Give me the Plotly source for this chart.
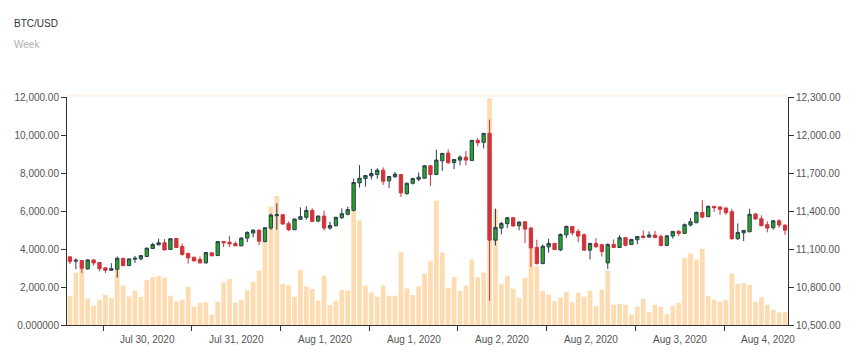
import plotly.graph_objects as go

title_text = "BTC/USD"
subtitle_text = "Week"

opens = [11038, 11004, 11009, 10943, 11014, 10993, 10951, 10932, 10940, 11027,
         10969, 11019, 11022, 11041, 11104, 11133, 11149, 11096, 11183, 11120,
         11064, 11035, 11017, 10990, 11070, 11048, 11159, 11154, 11144, 11125,
         11186, 11226, 11249, 11159, 11265, 11363, 11371, 11300, 11252, 11334,
         11350, 11405, 11321, 11360, 11265, 11284, 11347, 11374, 11405, 11622,
         11656, 11677, 11688, 11722, 11638, 11670, 11688, 11537, 11619, 11651,
         11659, 11757, 11688, 11796, 11857, 11783, 11802, 11825, 11799, 11958,
         11942, 12013, 11170, 11265, 11300, 11347, 11284, 11315, 11265, 11112,
         10985, 11117, 11144, 11093, 11212, 11278, 11239, 11212, 11091, 11144,
         11134, 10990, 11136, 11112, 11189, 11136, 11173, 11202, 11194, 11210,
         11199, 11128, 11202, 11239, 11223, 11289, 11307, 11389, 11355, 11437,
         11432, 11424, 11395, 11181, 11228, 11236, 11376, 11339, 11292, 11268,
         11323, 11289]

highs = [11040, 11027, 11014, 11019, 11016, 10995, 10952, 10988, 11041, 11029,
         11024, 11046, 11054, 11109, 11149, 11181, 11178, 11183, 11186, 11144,
         11072, 11038, 11041, 11074, 11071, 11162, 11161, 11204, 11159, 11194,
         11239, 11255, 11255, 11273, 11381, 11461, 11373, 11318, 11339, 11429,
         11437, 11421, 11366, 11403, 11315, 11355, 11421, 11434, 11656, 11762,
         11683, 11733, 11738, 11744, 11674, 11707, 11690, 11625, 11662, 11704,
         11762, 11759, 11884, 11857, 11886, 11809, 11839, 11873, 11960, 11976,
         12015, 12121, 11418, 11315, 11352, 11350, 11318, 11318, 11276, 11173,
         11136, 11181, 11149, 11223, 11286, 11281, 11257, 11223, 11149, 11186,
         11141, 11144, 11175, 11210, 11196, 11181, 11202, 11247, 11239, 11244,
         11215, 11210, 11241, 11249, 11302, 11344, 11395, 11485, 11442, 11440,
         11433, 11425, 11418, 11302, 11249, 11418, 11384, 11366, 11318, 11326,
         11334, 11292]

lows = [10980, 10940, 10911, 10937, 10969, 10924, 10911, 10930, 10874, 10964,
        10967, 10990, 11011, 11038, 11099, 11130, 11088, 11094, 11109, 11048,
        10985, 11003, 10988, 10988, 11044, 11046, 11115, 11115, 11122, 11122,
        11154, 11191, 11130, 11154, 11252, 11252, 11292, 11241, 11250, 11331,
        11331, 11313, 11310, 11247, 11252, 11278, 11337, 11366, 11397, 11585,
        11593, 11648, 11654, 11606, 11582, 11662, 11511, 11529, 11609, 11635,
        11656, 11598, 11683, 11717, 11773, 11730, 11762, 11762, 11796, 11910,
        11894, 10692, 11128, 11215, 11265, 11278, 11247, 11146, 10959, 10977,
        10980, 11070, 11091, 11083, 11186, 11207, 11154, 11085, 11017, 11112,
        11040, 10943, 11109, 11107, 11120, 11130, 11138, 11183, 11191, 11186,
        11122, 11122, 11183, 11202, 11220, 11278, 11305, 11342, 11352, 11392,
        11368, 11371, 11175, 11173, 11162, 11233, 11331, 11278, 11231, 11252,
        11268, 11212]

closes = [11001, 11011, 10948, 11014, 10990, 10945, 10932, 10945, 11027, 10969,
          11022, 11027, 11048, 11107, 11136, 11149, 11093, 11181, 11112, 11056,
          11030, 11006, 10990, 11072, 11046, 11159, 11149, 11141, 11125, 11186,
          11231, 11249, 11162, 11268, 11368, 11371, 11297, 11252, 11337, 11355,
          11405, 11318, 11360, 11265, 11286, 11350, 11379, 11411, 11625, 11659,
          11680, 11696, 11722, 11635, 11672, 11691, 11543, 11619, 11656, 11667,
          11757, 11688, 11802, 11855, 11781, 11807, 11825, 11802, 11958, 11939,
          12013, 11170, 11270, 11302, 11347, 11281, 11313, 11257, 11109, 10985,
          11122, 11144, 11096, 11215, 11278, 11228, 11202, 11091, 11144, 11117,
          11080, 11136, 11112, 11189, 11130, 11175, 11199, 11191, 11210, 11191,
          11128, 11204, 11239, 11223, 11292, 11315, 11389, 11352, 11437, 11426,
          11413, 11387, 11181, 11231, 11247, 11374, 11337, 11284, 11265, 11323,
          11289, 11249]

volumes = [1524, 2758, 2951, 1383, 1013, 1330, 1595, 1418, 3498, 2070,
           1507, 1806, 1471, 2370, 2528, 2581, 2493, 1542, 1242, 1330,
           2017, 960, 1172, 1189, 537, 1225, 2247, 2423, 1172, 1330,
           1830, 2282, 2863, 4414, 6229, 6793, 2158, 2106, 1489, 2898,
           2017, 1894, 1277, 2599, 1048, 1277, 1841, 1806, 7100, 5506,
           2070, 1718, 1489, 2070, 1542, 1542, 3832, 1929, 1577, 2035,
           2705, 3357, 6546, 3815, 1965, 2528, 1788, 2070, 3445, 2511,
           2758, 11937, 6088, 2176, 2599, 1912, 1436, 2476, 4061, 3092,
           1806, 1612, 1242, 1454, 1753, 1189, 1700, 1489, 1806, 996,
           1859, 2870, 1066, 1101, 1066, 555, 960, 1383, 678, 1066,
           960, 573, 1013, 1172, 3533, 3762, 3445, 4009, 1524, 1330,
           1225, 1313, 2705, 2158, 2211, 2106, 1225, 1454, 1066, 802,
           661, 678]

x_tick_labels = ["Jul 30, 2020", "Jul 31, 2020", "Aug 1, 2020", "Aug 1, 2020",
                 "Aug 2, 2020", "Aug 2, 2020", "Aug 3, 2020", "Aug 4, 2020"]
volume_ticks = [0, 2000, 4000, 6000, 8000, 10000, 12000]
volume_tick_labels = ["0.000000", "2,000.00", "4,000.00", "6,000.00",
                      "8,000.00", "10,000.00", "12,000.00"]
price_ticks = [10500, 10800, 11100, 11400, 11700, 12000, 12300]
price_tick_labels = ["10,500.00", "10,800.00", "11,100.00", "11,400.00",
                     "11,700.00", "12,000.00", "12,300.00"]

n = len(opens)
xs = list(range(n))
tick_step = 15.01
tick_positions = [5.6 + tick_step * k for k in range(len(x_tick_labels))]

FONT = "Liberation Sans, Arial, sans-serif"
AXIS = "#333333"
TICKFONT = dict(family=FONT, size=10, color="#555555")

fig = go.Figure()
fig.add_trace(go.Bar(
    x=xs, y=volumes, yaxis="y",
    marker=dict(color="#fedcb2", line=dict(width=0)),
    hoverinfo="y", showlegend=False,
))
fig.add_trace(go.Candlestick(
    x=xs, open=opens, high=highs, low=lows, close=closes, yaxis="y2",
    increasing=dict(line=dict(color="#2c3e50", width=1), fillcolor="#22aa22"),
    decreasing=dict(line=dict(color="#d0343a", width=1), fillcolor="#d0343a"),
    whiskerwidth=0, showlegend=False,
))

annotations = [
    dict(text=title_text, xref="paper", yref="paper", x=(12 - 67) / 721, y=(325 - 23) / 228,
         xanchor="left", yanchor="middle", showarrow=False,
         font=dict(family=FONT, size=10, color="#333333")),
    dict(text=subtitle_text, xref="paper", yref="paper", x=(12 - 67) / 721, y=(325 - 45) / 228,
         xanchor="left", yanchor="middle", showarrow=False,
         font=dict(family=FONT, size=10, color="#b0b0b0")),
]
# period-style labels centred between tick marks
for pos, lab in zip(tick_positions, x_tick_labels):
    annotations.append(dict(text=lab, xref="x", yref="paper", x=pos + tick_step / 2,
                            y=(325 - 339) / 228, xanchor="center", yanchor="middle",
                            showarrow=False, font=TICKFONT))

fig.update_layout(
    width=864, height=355,
    margin=dict(l=67, r=76, t=97, b=30, pad=0),
    paper_bgcolor="white", plot_bgcolor="white",
    bargap=0.2, boxgap=0.25, boxgroupgap=0.25,
    font=dict(family=FONT, size=10, color="#555555"),
    xaxis=dict(
        range=[-0.5, n - 0.5], showgrid=False, zeroline=False,
        showline=True, linecolor=AXIS, linewidth=1,
        ticks="outside", ticklen=5, tickcolor=AXIS,
        tickvals=tick_positions, showticklabels=False,
        rangeslider=dict(visible=False),
    ),
    yaxis=dict(
        range=[0, 12000], showgrid=False, zeroline=False,
        showline=True, linecolor=AXIS, linewidth=1,
        ticks="outside", ticklen=5, tickcolor=AXIS,
        tickvals=volume_ticks, ticktext=volume_tick_labels, tickfont=TICKFONT,
    ),
    yaxis2=dict(
        range=[10500, 12300], overlaying="y", side="right",
        showgrid=False, zeroline=False,
        showline=True, linecolor=AXIS, linewidth=1,
        ticks="outside", ticklen=5, tickcolor=AXIS,
        tickvals=price_ticks, ticktext=price_tick_labels, tickfont=TICKFONT,
    ),
    shapes=[dict(type="line", xref="paper", yref="paper", x0=0, x1=1, y0=1.005, y1=1.005,
                 line=dict(color="rgba(253,226,205,0.45)", width=2))],
    annotations=annotations,
)

fig.write_html("out.html", config={"displayModeBar": False},
               post_script="document.body.style.margin='0';")
